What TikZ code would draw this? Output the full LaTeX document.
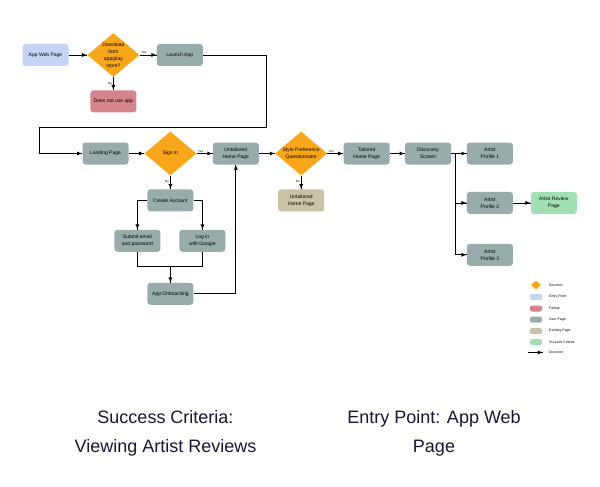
\documentclass[tikz,border=0pt]{standalone}
\usepackage{fontspec}
\setmainfont{Liberation Sans}
\usepackage{xcolor}
\definecolor{entry}{RGB}{197,211,245}
\definecolor{decision}{RGB}{250,166,26}
\definecolor{failure}{RGB}{214,132,140}
\definecolor{userpage}{RGB}{152,172,172}
\definecolor{existing}{RGB}{200,194,166}
\definecolor{success}{RGB}{160,224,178}
\definecolor{caption}{RGB}{28,20,50}
\usetikzlibrary{positioning, calc, shapes.geometric, arrows, decorations.markings}
\tikzstyle{Arrow} = [
thick,
decoration={
markings,
mark=at position 0.9999 with {
\arrow[thick]{latex}}},
preaction = {decorate}]
\tikzstyle{Page} = [rectangle, rounded corners=3pt, fill=userpage,
minimum width=46pt, minimum height=22pt, inner sep=0pt, align=center,
font=\fontsize{5}{7}\selectfont]
\tikzstyle{Decision} = [diamond, aspect=1.2, fill=decision,
minimum width=52pt, minimum height=44pt, inner sep=0pt, align=center,
font=\fontsize{5}{7}\selectfont]
\tikzstyle{Answer} = [font=\fontsize{3}{3}\selectfont, inner sep=1pt]
\tikzstyle{Key} = [rectangle, rounded corners=2pt, minimum width=12pt,
minimum height=6pt, inner sep=0pt]
\tikzstyle{KeyText} = [font=\fontsize{3.5}{4}\selectfont, inner sep=0pt]
\tikzstyle{Caption} = [font=\fontsize{18}{29}\selectfont, text=caption, align=center]

\begin{document}
\begin{tikzpicture}
    \useasboundingbox (0,0) rectangle (600pt,-487pt);

    \node [Page, fill=entry] (web) at (45.5pt,-55pt) {App Web Page};
    \node [Decision, right =18.5pt of web] (download) {Download\\from\\app/play\\store?};
    \node [Page, right =17pt of download] (launch) {Launch App};
    \node [Page, fill=failure, below =13pt of download] (noapp) {Does not use app};

    \node [Page] (landing) at (105.5pt,-153.5pt) {Landing Page};
    \node [Decision, right =15.5pt of landing] (signin) {Sign In};
    \node [Page, right =16pt of signin] (untailored) {Untailored\\Home Page};
    \node [Decision, right =16pt of untailored] (style) {Style Preference\\Questionnaire};
    \node [Page, fill=existing, below =13.5pt of style] (existing) {Untailored\\Home Page};
    \node [Page, right =16pt of style] (tailored) {Tailored\\Home Page};
    \node [Page, right =15pt of tailored] (discovery) {Discovery\\Screen};
    \node [Page, right =15.5pt of discovery] (artist1) {Artist\\Profile 1};
    \node [Page, below =27pt of artist1] (artist2) {Artist\\Profile 2};
    \node [Page, below =29.5pt of artist2] (artist3) {Artist\\Profile 3};
    \node [Page, fill=success, right =17.5pt of artist2] (review) {Artist Review\\Page};

    \node [Page, below =13.5pt of signin] (create) {Create Account};
    \node [Page, below =18pt of create, xshift=-33pt] (email) {Submit email\\and password};
    \node [Page, below =18pt of create, xshift=32pt] (google) {Log in\\with Google};
    \node [Page, below =71pt of create] (onboarding) {App Onboarding};

    \coordinate (bend1) at ($(launch.east)+(63pt,-72pt)$);
    \coordinate [left =42.5pt of landing.west] (bend2);
    \coordinate (merge) at ($(onboarding.north)+(0,16pt)$);
    \coordinate (split) at ($(discovery.east)+(4pt,0)$);

    \draw[Arrow] (web.east)--(download.west);
    \draw[Arrow] (download.east) -- node[Answer, above, pos=0.25] {Yes} (launch.west);
    \draw[Arrow] (download.south) -- node[Answer, left, pos=0.45] {No} (noapp.north);
    \draw[Arrow] (launch.east) -| (bend1) -| (bend2) -- (landing.west);
    \draw[Arrow] (landing.east)--(signin.west);
    \draw[Arrow] (signin.east) -- node[Answer, above, pos=0.25] {Yes} (untailored.west);
    \draw[Arrow] (signin.south) -- node[Answer, left, pos=0.45] {No} (create.north);
    \draw[Arrow] (create.west) -| (email.north);
    \draw[Arrow] (create.east) -| (google.north);
    \draw[thick] (email.south) |- (merge) -| (google.south);
    \draw[Arrow] (merge)--(onboarding.north);
    \draw[Arrow] (onboarding.east) -| (untailored.south);
    \draw[Arrow] (untailored.east)--(style.west);
    \draw[Arrow] (style.east) -- node[Answer, above, pos=0.25] {Yes} (tailored.west);
    \draw[Arrow] (style.south) -- node[Answer, left, pos=0.45] {No} (existing.north);
    \draw[Arrow] (tailored.east)--(discovery.west);
    \draw[Arrow] (discovery.east)--(artist1.west);
    \draw[Arrow] (split) |- (artist2.west);
    \draw[Arrow] (split) |- (artist3.west);
    \draw[Arrow] (artist2.east)--(review.west);

    % legend
    \node [diamond, fill=decision, minimum width=10pt, minimum height=9pt, inner sep=0pt] (key1) at (536pt,-285pt) {};
    \node [Key, fill=entry] (key2) at (536pt,-297pt) {};
    \node [Key, fill=failure] (key3) at (536pt,-308.5pt) {};
    \node [Key, fill=userpage] (key4) at (536pt,-319.5pt) {};
    \node [Key, fill=existing] (key5) at (536pt,-331pt) {};
    \node [Key, fill=success] (key6) at (536pt,-342pt) {};
    \coordinate (key7) at (528pt,-352.5pt);
    \coordinate (key7end) at (543pt,-352.5pt);
    \draw[Arrow] (key7)--(key7end);
    \node [KeyText, anchor=west] (text1) at (549pt,-285pt) {Decision};
    \node [KeyText, anchor=west] (text2) at (549pt,-297pt) {Entry Point};
    \node [KeyText, anchor=west] (text3) at (549pt,-308.5pt) {Failure};
    \node [KeyText, anchor=west] (text4) at (549pt,-319.5pt) {User Page};
    \node [KeyText, anchor=west] (text5) at (549pt,-331pt) {Existing Page};
    \node [KeyText, anchor=west] (text6) at (549pt,-342pt) {Success Criteria};
    \node [KeyText, anchor=west] (text7) at (549pt,-352.5pt) {Direction};

    \node [Caption] (goal) at (165.5pt,-433pt) {Success Criteria:\\Viewing Artist Reviews};
    \node [Caption] (start) at (434pt,-433pt) {Entry Point: App Web\\Page};
\end{tikzpicture}
\end{document}
